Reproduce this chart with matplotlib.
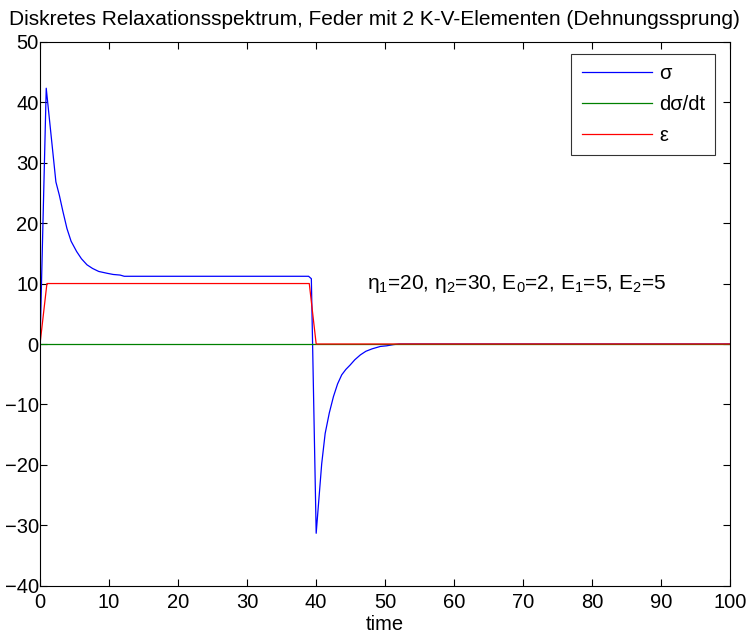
import numpy as np
import matplotlib
matplotlib.use("Agg")
import matplotlib.pyplot as plt

plt.rcParams['font.family'] = ['Liberation Sans', 'DejaVu Sans']

# Stress sigma
t_sig = [0, 0.9, 2.3, 2.8, 3.3, 3.9, 4.5, 5.3, 6.0, 6.8, 7.6, 8.5, 9.7, 10.6, 11.6, 12.2,
         38.9, 39.3, 40.0,
         40.8, 41.3, 41.9, 42.5, 43.1, 43.7, 44.3, 44.9, 45.6, 46.4, 47.2, 48.1, 49.3,
         50.2, 51.2, 52.0, 100]
sig = [0, 42.3, 26.8, 24.6, 22.0, 19.1, 17.0, 15.3, 14.1, 13.1, 12.5, 12.0, 11.7, 11.5, 11.4, 11.2,
       11.2, 10.8, -31.3,
       -19.8, -14.8, -11.4, -8.7, -6.6, -5.1, -4.2, -3.5, -2.6, -1.8, -1.2, -0.8, -0.4,
       -0.3, -0.1, 0, 0]

# strain epsilon
t_eps = [0, 1, 39, 40, 100]
eps = [0, 10, 10, 0, 0]

# d sigma / dt
t_ds = [0, 100]
ds = [0, 0]

fig = plt.figure(figsize=(7.48, 6.41), dpi=100)
ax = fig.add_axes([0.0535, 0.086, 0.923, 0.849])

ax.plot(t_sig, sig, color=(0, 0, 1), lw=0.9, label='σ')
ax.plot(t_ds, ds, color=(0, 0.5, 0), lw=0.9, label='dσ/dt')
ax.plot(t_eps, eps, color=(1, 0, 0), lw=0.9, label='ε')

ax.set_xlim(0, 100)
ax.set_ylim(-40, 50)
ax.set_xticks(np.arange(0, 101, 10))
ax.set_yticks(np.arange(-40, 51, 10))
ax.tick_params(direction='in', top=True, right=True, length=5, width=0.8,
               labelsize=14.5)
ax.tick_params(axis='x', pad=5)
ax.tick_params(axis='y', pad=1)
for s in ax.spines.values():
    s.set_linewidth(0.8)

ax.set_xlabel('time', fontsize=14.5, labelpad=2)
ax.set_title('Diskretes Relaxationsspektrum, Feder mit 2 K-V-Elementen (Dehnungssprung)',
             fontsize=15, pad=12, x=0.485)

ax.text(47.3, 10, r'$\mathregular{\eta_1}$=20, $\mathregular{\eta_2}$=30, '
        r'E$\mathregular{_0}$=2, E$\mathregular{_1}$=5, E$\mathregular{_2}$=5',
        fontsize=15, va='center', ha='left')

leg = ax.legend(loc='upper right', fontsize=14.5, frameon=True, fancybox=False,
                edgecolor='black', handlelength=3.5, handletextpad=0.35, borderpad=0.5,
                labelspacing=0.6, borderaxespad=0, bbox_to_anchor=(0.978, 0.978))
leg.get_frame().set_linewidth(0.8)

fig.savefig('out.png', dpi=100)
